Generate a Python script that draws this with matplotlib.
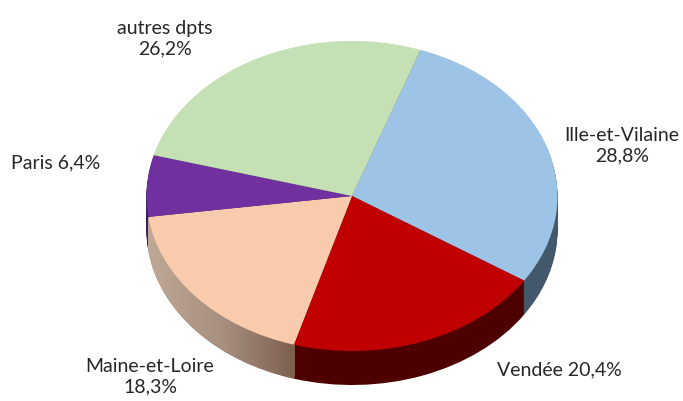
import matplotlib
matplotlib.use('Agg')
import matplotlib.pyplot as plt
import numpy as np
from matplotlib.colors import LinearSegmentedColormap
from matplotlib.path import Path

# slices, clockwise from the top
names = ['Ille-et-Vilaine', 'Vendée', 'Maine-et-Loire', 'Paris', 'autres dpts']
shares = [28.8, 20.4, 18.3, 6.4, 26.2]
colors = ['#9DC3E6', '#C00000', '#F8CBAD', '#7030A0', '#C5E0B4']
side_colors = ['#44586B', '#4E0000', '#A08878', '#3E1C5C', '#5A6A50']

plt.rcParams['font.family'] = ['Lato', 'DejaVu Sans']

W, H = 683, 401
cx, cy = 352, 196   # centre of the top face, px
rx, ry = 205.5, 155   # radii of the ellipse, px
depth_px = 34
start = 70.5

fig = plt.figure(figsize=(W / 100, H / 100), dpi=100)
ax = fig.add_axes([0, 0, 1, 1])

xlim = (-cx / rx, (W - cx) / rx)
ylim = (-(H - cy) / ry, cy / ry)

# side wall: stacked copies of the pie going downwards
tan_paths = []
for i in range(depth_px, 0, -1):
    wedges, _ = ax.pie(shares, colors=side_colors, startangle=start, counterclock=False,
                       center=(0, -i / ry), radius=1, frame=True)
    for w in wedges:
        w.set_zorder(2 * (depth_px - i) + 1)
    tan_paths.append(wedges[2].get_patch_transform().transform_path(wedges[2].get_path()))

# tan side fades from left to right, stops at the rim of the red slice
fade = LinearSegmentedColormap.from_list('fade', ['#C0A896', '#A89080', '#7E5F4E'])
grad = np.linspace(0, 1, 256).reshape(1, -1)
tan = wedges[2]
x1 = max(np.cos(np.radians(tan.theta1)), np.cos(np.radians(tan.theta2)))
im = ax.imshow(grad, cmap=fade, extent=(-1.0, x1, ylim[0], ylim[1]), aspect='auto', zorder=500)
im.set_clip_path(Path.make_compound_path(*tan_paths), ax.transData)

wedges, _ = ax.pie(shares, colors=colors, startangle=start, counterclock=False,
                   center=(0, 0), radius=1, frame=True)
for w in wedges:
    w.set_zorder(1000)

ax.set_aspect('auto')
ax.set_xlim(xlim)
ax.set_ylim(ylim)
ax.axis('off')

# label positions in px, same order as names
label_px = [(622, 146), (559, 370), (150, 377), (56, 163), (165, 39)]
two_lines = [True, False, True, False, True]
for name, share, (px, py), two in zip(names, shares, label_px, two_lines):
    val = f'{share:.1f}%'.replace('.', ',')
    txt = name + ('\n' if two else ' ') + val
    fig.text(px / W, 1 - py / H, txt, ha='center', va='center', fontsize=14,
             color='#262626', linespacing=1.25)

fig.savefig('out.png', dpi=100)
